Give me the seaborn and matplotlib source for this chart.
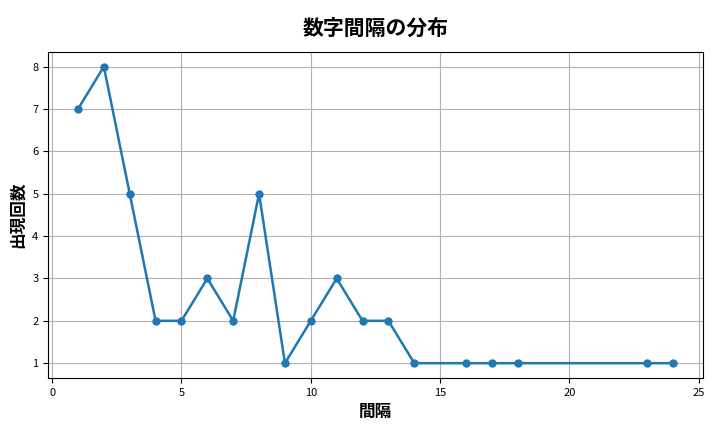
import matplotlib
matplotlib.use("Agg")
import matplotlib.pyplot as plt
import seaborn as sns
import pandas as pd

gaps = [1, 2, 3, 4, 5, 6, 7, 8, 9, 10, 11, 12, 13, 14, 16, 17, 18, 23, 24]
counts = [7, 8, 5, 2, 2, 3, 2, 5, 1, 2, 3, 2, 2, 1, 1, 1, 1, 1, 1]

plt.rcParams['font.family'] = ['Noto Sans CJK JP', 'DejaVu Sans']
df = pd.DataFrame({"gap": gaps, "count": counts})
fig, ax = plt.subplots(figsize=(7.2, 4.32), dpi=100)
sns.lineplot(data=df, x="gap", y="count", marker="o", markeredgewidth=0,
             color="#1f77b4", linewidth=1.8, markersize=6, ax=ax)
ax.grid(True, color="#b0b0b0", linewidth=0.8)
ax.set_title("数字間隔の分布", fontsize=15, pad=12, fontweight="bold")
ax.set_xlabel("間隔", fontsize=12, fontweight="bold")
ax.set_ylabel("出現回数", fontsize=12, fontweight="bold")
ax.tick_params(labelsize=8)
ax.set_xticks([0, 5, 10, 15, 20, 25])
fig.subplots_adjust(left=0.067, right=0.976, top=0.88, bottom=0.125)
fig.savefig("out.png", dpi=100)
